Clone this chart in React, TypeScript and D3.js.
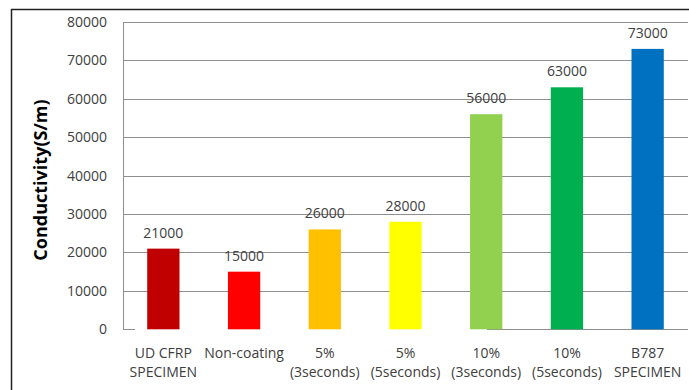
import React from "react";
import * as d3 from "d3";

const categories = [
  ["UD CFRP", "SPECIMEN"],
  ["Non-coating"],
  ["5%", "(3seconds)"],
  ["5%", "(5seconds)"],
  ["10%", "(3seconds)"],
  ["10%", "(5seconds)"],
  ["B787", "SPECIMEN"],
];
const values = [21000, 15000, 26000, 28000, 56000, 63000, 73000];
const barColors = ["#C00000", "#FF0000", "#FFC000", "#FFFF00", "#92D050", "#00B050", "#0070C0"];
const yTicks = [0, 10000, 20000, 30000, 40000, 50000, 60000, 70000, 80000];
const yTitle = "Conductivity(S/m)";

const W = 689;
const H = 390;
const plot = { left: 123, right: 688, top: 22, bottom: 329.3 };
const font = "'Open Sans', sans-serif";
const textColor = "#404040";
const gridColor = "#8f8f8f";

export default function App() {
  const keys = categories.map((_, i) => String(i));
  const x = d3
    .scaleBand<string>()
    .domain(keys)
    .range([plot.left, plot.right])
    .paddingInner(0.6)
    .paddingOuter(0.3);
  const y = d3.scaleLinear().domain([0, 80000]).range([plot.bottom, plot.top]);

  return (
    <svg
      width={W}
      height={H}
      style={{ position: "absolute", left: 0, top: 0, background: "#fff" }}
      fontFamily={font}
    >
      {/* outer frame */}
      <line x1={11.5} y1={9} x2={11.5} y2={H} stroke="#222" strokeWidth={1.5} />
      <line x1={11} y1={9.5} x2={W} y2={9.5} stroke="#222" strokeWidth={1.5} />

      {/* horizontal gridlines */}
      {yTicks.filter((t) => t > 0).map((t) => (
        <line
          key={t}
          x1={plot.left}
          x2={plot.right}
          y1={Math.round(y(t)) + 0.5}
          y2={Math.round(y(t)) + 0.5}
          stroke={gridColor}
          strokeWidth={1}
        />
      ))}

      {/* y axis line */}
      <line x1={plot.left + 0.5} x2={plot.left + 0.5} y1={y(80000)} y2={y(0)} stroke={gridColor} />
      {/* baseline segments */}
      <line x1={plot.left} x2={plot.left + 12} y1={Math.round(y(0)) + 0.5} y2={Math.round(y(0)) + 0.5} stroke={gridColor} />
      <line x1={487} x2={plot.right} y1={Math.round(y(0)) + 0.5} y2={Math.round(y(0)) + 0.5} stroke={gridColor} />

      {/* y tick labels */}
      {yTicks.map((t) => (
        <text
          key={t}
          x={107}
          y={y(t)}
          dy="0.35em"
          textAnchor="end"
          fontSize={14}
          fill={textColor}
        >
          {t}
        </text>
      ))}

      {/* y axis title */}
      <text
        transform={`translate(46.5,180) rotate(-90)`}
        textAnchor="middle"
        fontSize={18}
        fontWeight="bold"
        fill="#000"
      >
        {yTitle}
      </text>

      {/* bars */}
      {values.map((v, i) => (
        <rect
          key={i}
          x={x(keys[i])}
          y={y(v)}
          width={x.bandwidth()}
          height={y(0) - y(v)}
          fill={barColors[i]}
        />
      ))}

      {/* value labels */}
      {values.map((v, i) => (
        <text
          key={i}
          x={(x(keys[i]) as number) + x.bandwidth() / 2}
          y={y(v) - 11}
          textAnchor="middle"
          fontSize={14}
          fill={textColor}
        >
          {v}
        </text>
      ))}

      {/* category labels */}
      {categories.map((lines, i) => (
        <text
          key={i}
          x={(x(keys[i]) as number) + x.bandwidth() / 2}
          textAnchor="middle"
          fontSize={14}
          fill={textColor}
        >
          {lines.map((l, j) => (
            <tspan key={j} x={(x(keys[i]) as number) + x.bandwidth() / 2} y={358 + j * 19}>
              {l}
            </tspan>
          ))}
        </text>
      ))}
    </svg>
  );
}
